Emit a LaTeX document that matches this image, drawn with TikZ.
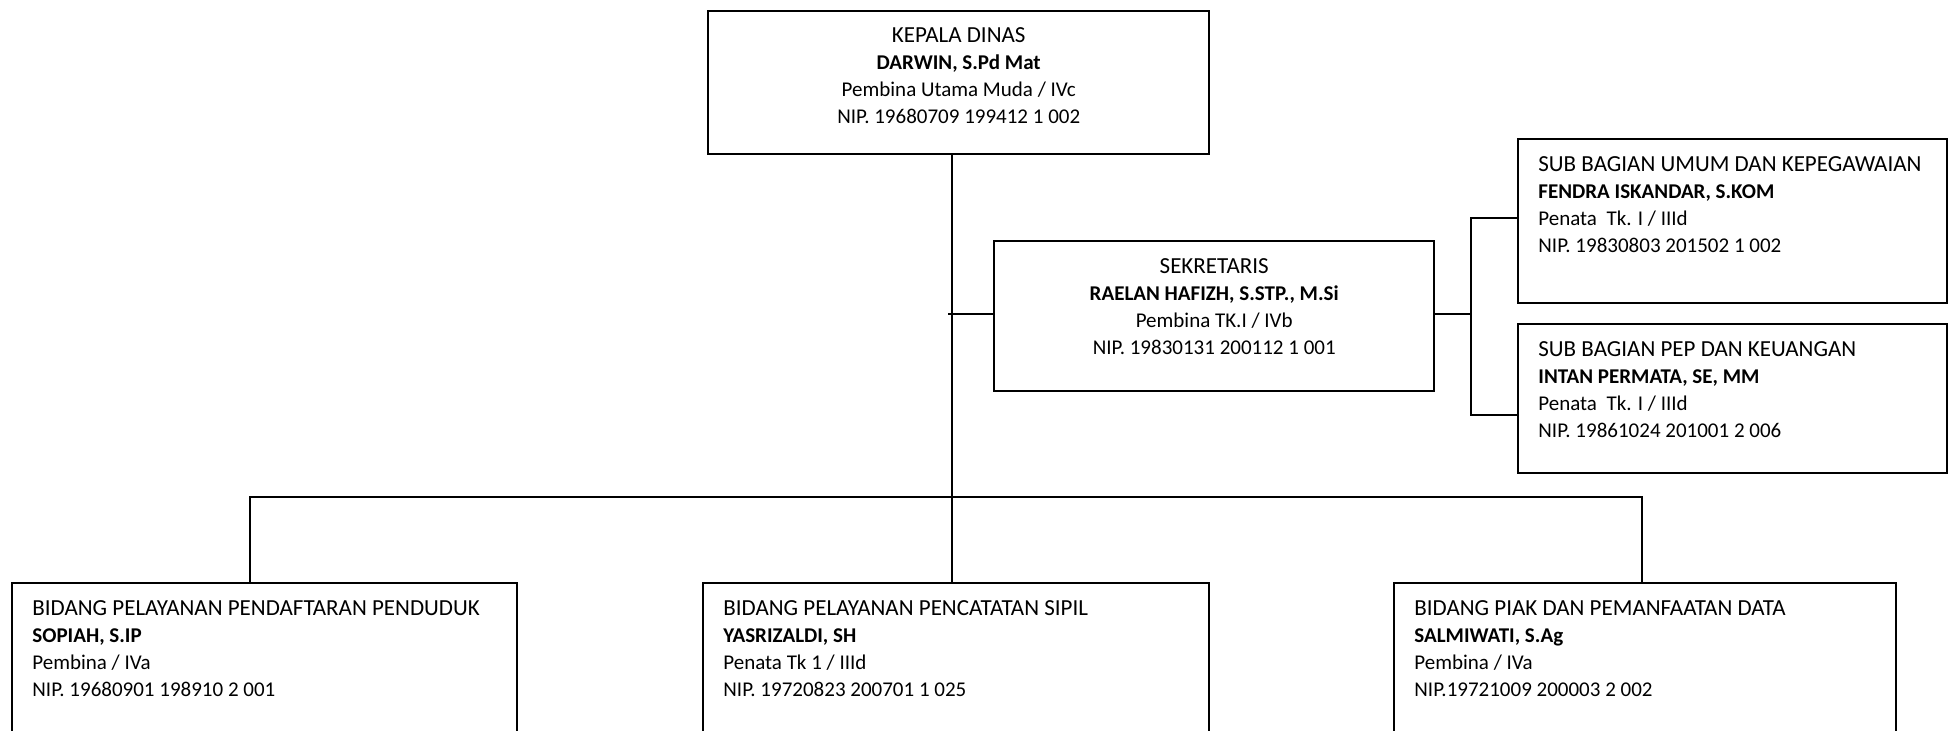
\documentclass[tikz,border=0pt]{standalone}
\usepackage{fontspec}
\setmainfont{Carlito}
\usepackage{tikz}
\usetikzlibrary{positioning, calc}

\newcommand{\jabatan}[1]{{\fontsize{11.5}{13.5}\selectfont #1}}

\begin{document}
\begin{tikzpicture}[x=0.5pt, y=-0.5pt,
        box/.style={rectangle, draw=black, line width=1.2pt, inner sep=0pt, anchor=north west},
        isic/.style={inner sep=0pt, align=center, font=\fontsize{10.5}{13.5}\selectfont},
        isil/.style={inner sep=0pt, align=left, font=\fontsize{10.5}{13.5}\selectfont},
        link/.style={draw=black, line width=1.2pt}]
        \useasboundingbox (0,0) rectangle (1948,730);
        \clip (0,0) rectangle (1948,730);

        % Boxes
        \node[box, minimum width=250.5pt, minimum height=71.5pt] at (707,10) (kepala) {};
        \node[box, minimum width=220pt, minimum height=75pt] at (993,240) (sekretaris) {};
        \node[box, minimum width=214.5pt, minimum height=82pt] at (1517,138) (umum) {};
        \node[box, minimum width=214.5pt, minimum height=74.5pt] at (1517,323) (pep) {};
        \node[box, minimum width=252.5pt, minimum height=100pt] at (11,582) (bidang1) {};
        \node[box, minimum width=253pt, minimum height=100pt] at (702,582) (bidang2) {};
        \node[box, minimum width=251pt, minimum height=100pt] at (1393,582) (bidang3) {};

        % Texts
        \node[isic, below=8.5pt of kepala.north] (kepala-txt)
            {\jabatan{KEPALA DINAS}\\ \textbf{DARWIN, S.Pd Mat}\\ Pembina Utama Muda / IVc\\ NIP. 19680709 199412 1 002};
        \node[isic, below=9pt of sekretaris.north] (sekretaris-txt)
            {\jabatan{SEKRETARIS}\\ \textbf{RAELAN HAFIZH, S.STP., M.Si}\\ Pembina TK.I / IVb\\ NIP. 19830131 200112 1 001};
        \node[isil, below right=9pt and 10.5pt of umum.north west] (umum-txt)
            {\jabatan{SUB BAGIAN UMUM DAN KEPEGAWAIAN}\\ \textbf{FENDRA ISKANDAR, S.KOM}\\ Penata\ \ Tk. I / IIId\\ NIP. 19830803 201502 1 002};
        \node[isil, below right=9pt and 10.5pt of pep.north west] (pep-txt)
            {\jabatan{SUB BAGIAN PEP DAN KEUANGAN}\\ \textbf{INTAN PERMATA, SE, MM}\\ Penata\ \ Tk. I / IIId\\ NIP. 19861024 201001 2 006};
        \node[isil, below right=9pt and 10.5pt of bidang1.north west] (bidang1-txt)
            {\jabatan{BIDANG PELAYANAN PENDAFTARAN PENDUDUK}\\ \textbf{SOPIAH, S.IP}\\ Pembina / IVa\\ NIP. 19680901 198910 2 001};
        \node[isil, below right=9pt and 10.5pt of bidang2.north west] (bidang2-txt)
            {\jabatan{BIDANG PELAYANAN PENCATATAN SIPIL}\\ \textbf{YASRIZALDI, SH}\\ Penata Tk 1 / IIId\\ NIP. 19720823 200701 1 025};
        \node[isil, below right=9pt and 10.5pt of bidang3.north west] (bidang3-txt)
            {\jabatan{BIDANG PIAK DAN PEMANFAATAN DATA}\\ \textbf{SALMIWATI, S.Ag}\\ Pembina / IVa\\ NIP.19721009 200003 2 002};

        % Junction points
        \coordinate (hub) at (952,497);
        \coordinate (tick) at (948,314);
        \coordinate (brk-top) at (1471,218);
        \coordinate (brk-bot) at (1471,415);
        \coordinate (drop-l) at (250,497);
        \coordinate (drop-r) at (1642,497);

        % Lines
        \draw[link] (kepala.south -| hub) -- (bidang2.north -| hub);
        \draw[link] (tick) -- (tick -| sekretaris.west);
        \draw[link] (sekretaris.east |- tick) -- (tick -| brk-top);
        \draw[link] (umum.west |- brk-top) -- (brk-top) -- (brk-bot) -- (pep.west |- brk-bot);
        \draw[link] (bidang1.north -| drop-l) -- (drop-l) -- (drop-r) -- (bidang3.north -| drop-r);
    \end{tikzpicture}
\end{document}
